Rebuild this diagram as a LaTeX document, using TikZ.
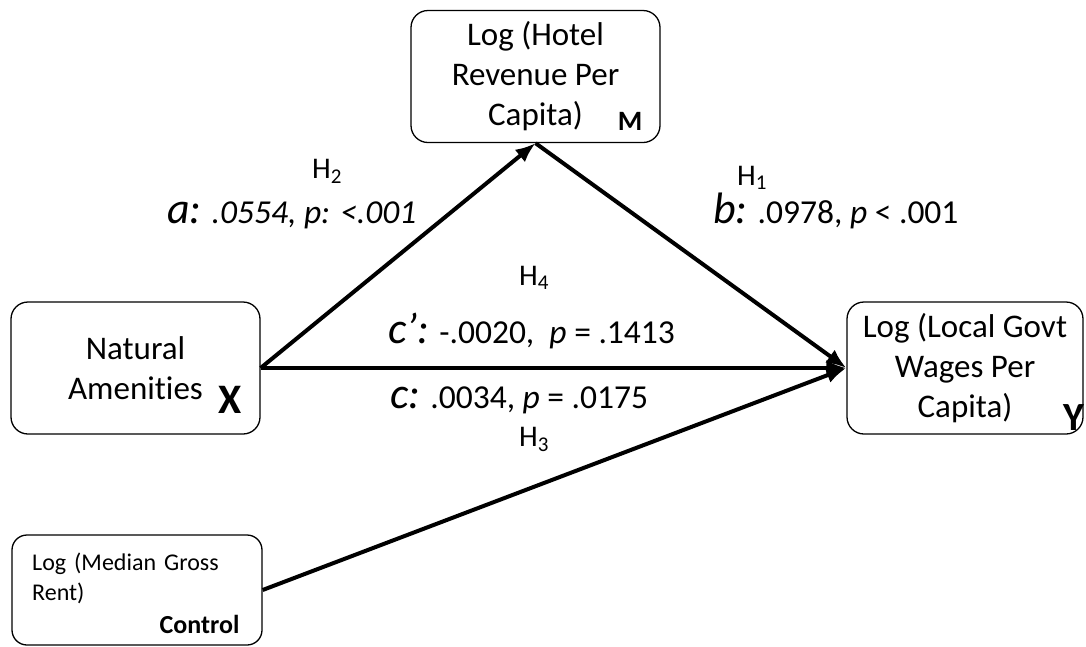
\documentclass[tikz,border=0pt]{standalone}
\usepackage{fontspec}
\setmainfont{Carlito}[Ligatures=NoCommon]
\usetikzlibrary{arrows.meta}

\begin{document}
\begin{tikzpicture}[x=1pt,y=-1pt,
    boite/.style={draw, line width=1.3pt, rounded corners=17pt, inner sep=0pt,
      minimum width=249pt, minimum height=132pt, align=center,
      font=\fontsize{33}{40}\selectfont},
    lettre/.style={inner sep=0pt, anchor=base east},
    hyp/.style={inner sep=0pt, anchor=base west, font=\fontsize{30}{30}\selectfont},
    coef/.style={inner sep=0pt, anchor=base west, font=\fontsize{33.5}{33.5}\selectfont},
    fleche/.style={line width=4pt, ->, >={Latex[length=20pt,width=16pt]}},
    trait/.style={line width=4pt}]

    \useasboundingbox (0,0) rectangle (1086,646);
    \def\grand{\fontsize{44}{44}\selectfont}

    % Les quatre boites (variables du modele)
    \node[boite] (X) at (135.5,368) {Natural\\Amenities};
    \node[boite] (M) at (535.5,76.5) {Log (Hotel\\Revenue Per\\Capita)};
    \node[boite, minimum width=236pt] (Y) at (965,368) {Log (Local Govt\\Wages Per\\Capita)};
    \node[boite, minimum width=250pt, minimum height=110pt, rounded corners=15pt] (C) at (137,590) {};
    \node[inner sep=0pt, anchor=base west, text width=225pt, align=left,
      font=\fontsize{24}{30}\selectfont] (Ctexte) at (32,570) {Log (Median Gross\\Rent)};

    % Les lettres en gras dans les coins des boites
    \node[lettre, font=\bfseries\fontsize{42}{42}\selectfont] (Xl) at ([xshift=-19pt,yshift=21pt]X.south east) {X};
    \node[lettre, font=\bfseries\fontsize{28}{28}\selectfont] (Ml) at ([xshift=-18pt,yshift=13pt]M.south east) {M};
    \node[lettre, font=\bfseries\fontsize{40}{40}\selectfont] (Yl) at ([xshift=1pt,yshift=4pt]Y.south east) {Y};
    \node[lettre, font=\bfseries\fontsize{26}{26}\selectfont] (Cl) at ([xshift=-23pt,yshift=12pt]C.south east) {Control};

    % Les fleches entre les variables
    \draw[fleche] (X.east) -- (M.south);
    \draw[fleche] (M.south) -- (Y.west);
    \draw[fleche] (X.east) -- (Y.west);
    \draw[fleche] (C.east) -- (Y.west);

    % Hypotheses et coefficients
    \node[hyp] (Hdeux) at (312,178) {H\textsubscript{2}};
    \node[coef] (coefa) at (167,223) {\itshape{\grand a:} .0554, p: <.001};
    \node[hyp] (Hun) at (737,185) {H\textsubscript{1}};
    \node[coef] (coefb) at (713,223) {\textit{\grand b:} .0978, \textit{p} < .001};
    \node[hyp] (Hquatre) at (519,285) {H\textsubscript{4}};
    \node[coef] (coefcp) at (388,343) {\textit{\grand c’:} -.0020,~ \textit{p} = .1413};
    \node[coef] (coefc) at (390,408) {\textit{\grand c:} .0034, \textit{p} = .0175};
    \node[hyp] (Htrois) at (519,446) {H\textsubscript{3}};

\end{tikzpicture}
\end{document}
